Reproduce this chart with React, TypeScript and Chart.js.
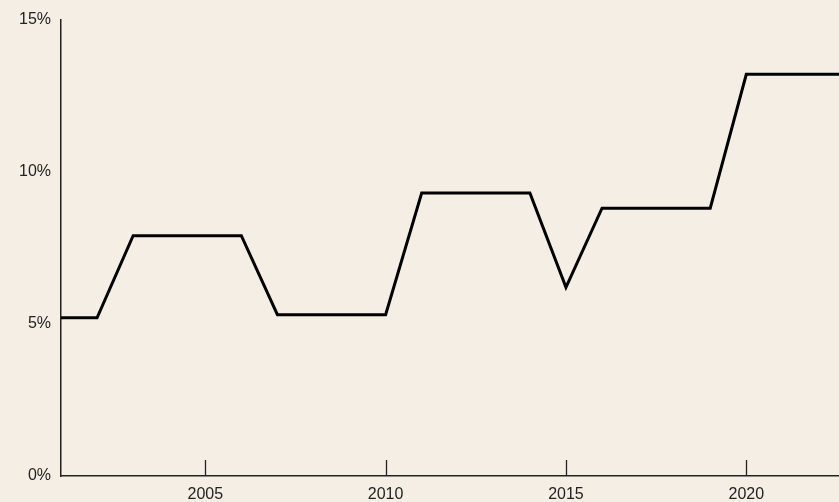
import React, { useEffect, useRef } from "react";
import { Chart, registerables } from "chart.js";

Chart.register(...registerables);

const years = [2001, 2002, 2003, 2004, 2005, 2006, 2007, 2008, 2009, 2010, 2011, 2012, 2013, 2014, 2015, 2016, 2017, 2018, 2019, 2020, 2021, 2022, 2023];
const rates = [5.2, 5.2, 7.9, 7.9, 7.9, 7.9, 5.3, 5.3, 5.3, 5.3, 9.3, 9.3, 9.3, 9.3, 6.2, 8.8, 8.8, 8.8, 8.8, 13.2, 13.2, 13.2, 13.2];
const xTickYears = [2005, 2010, 2015, 2020];
const yTickValues = [0, 5, 10, 15];

const BG = "#f5eee4";
const INK = "#222222";

export default function App() {
  const ref = useRef<HTMLCanvasElement | null>(null);

  useEffect(() => {
    document.body.style.margin = "0";
    document.body.style.background = BG;
    const canvas = ref.current;
    if (!canvas) return;

    const bgPlugin = {
      id: "bg",
      beforeDraw(chart: any) {
        const { ctx, width, height } = chart;
        ctx.save();
        ctx.fillStyle = BG;
        ctx.fillRect(0, 0, width, height);
        ctx.restore();
      },
    };

    const innerTicks = {
      id: "innerTicks",
      afterDraw(chart: any) {
        const { ctx, chartArea } = chart;
        const xs = chart.scales.x;
        ctx.save();
        ctx.strokeStyle = INK;
        ctx.lineWidth = 1.3;
        xTickYears.forEach((yr) => {
          const px = Math.round(xs.getPixelForValue(yr)) + 0.5;
          ctx.beginPath();
          ctx.moveTo(px, chartArea.bottom);
          ctx.lineTo(px, chartArea.bottom - 16);
          ctx.stroke();
        });
        ctx.restore();
      },
    };

    const chart = new Chart(canvas, {
      type: "line",
      data: {
        datasets: [
          {
            data: years.map((y, i) => ({ x: y, y: rates[i] })),
            borderColor: "#000000",
            borderWidth: 3,
            pointRadius: 0,
            fill: false,
            tension: 0,
          },
        ],
      },
      options: {
        responsive: false,
        animation: false,
        clip: true,
        layout: { padding: { top: 18, right: 0, left: 0, bottom: 0 } },
        plugins: { legend: { display: false }, tooltip: { enabled: false } },
        scales: {
          x: {
            type: "linear",
            min: 2001,
            max: 2022.57,
            grid: { display: false, drawTicks: false },
            border: { display: true, color: INK, width: 1.5 },
            afterBuildTicks(scale: any) {
              scale.ticks = xTickYears.map((v) => ({ value: v }));
            },
            ticks: {
              color: INK,
              font: { family: "Liberation Sans, Arial, sans-serif", size: 16 },
              padding: 9,
              maxRotation: 0,
              autoSkip: false,
              callback: (v: any) => String(v),
            },
            afterFit(scale: any) {
              scale.height = 26;
            },
          },
          y: {
            type: "linear",
            min: 0,
            max: 15,
            grid: { display: false, drawTicks: false },
            border: { display: true, color: INK, width: 1.5 },
            afterBuildTicks(scale: any) {
              scale.ticks = yTickValues.map((v) => ({ value: v }));
            },
            ticks: {
              color: INK,
              font: { family: "Liberation Sans, Arial, sans-serif", size: 16 },
              padding: 10,
              callback: (v: any) => v + "%",
            },
            afterFit(scale: any) {
              scale.width = 61;
            },
          },
        },
      },
      plugins: [bgPlugin, innerTicks],
    });

    return () => chart.destroy();
  }, []);

  return (
    <div style={{ width: 839, height: 502 }}>
      <canvas ref={ref} width={839} height={502} style={{ display: "block", width: 839, height: 502 }} />
    </div>
  );
}
